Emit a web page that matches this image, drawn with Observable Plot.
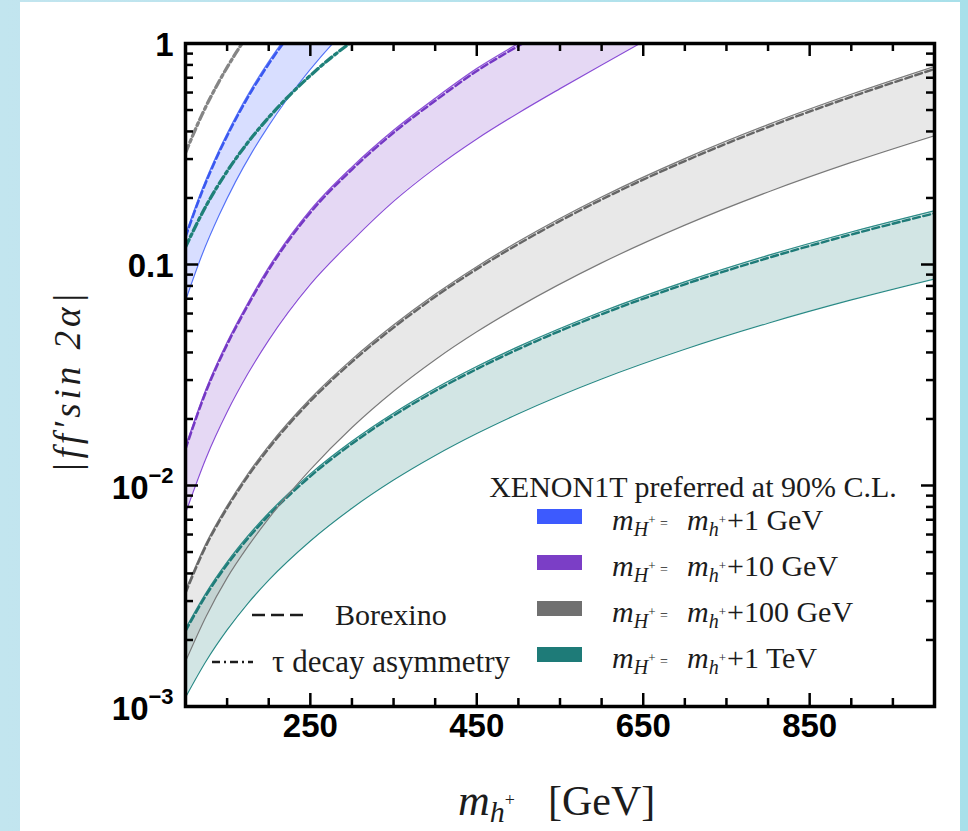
<!DOCTYPE html>
<html><head><meta charset="utf-8">
<script src="https://cdn.jsdelivr.net/npm/d3@7"></script>
<script src="https://cdn.jsdelivr.net/npm/@observablehq/plot@0.6"></script>
<style>
html,body{margin:0;padding:0;background:#bfe4ee;}
#wrap{position:relative;width:968px;height:831px;background:linear-gradient(90deg,#c2e5ef,#a8e0ea);overflow:hidden;}
#panel{position:absolute;left:20px;top:2px;width:940px;height:829px;background:#fff;}
#wrap svg{position:absolute;left:0;top:0;}
</style></head><body><div id="wrap"><div id="panel"></div></div>
<script>
// ---------- data ----------
// m_H+ = m_h+ + 1 GeV
const blueX     = [100, 120, 140, 160, 180, 200, 220, 240, 260, 280];
const blueUpper = [0.1365, 0.219, 0.327, 0.463, 0.63, 0.828, 1.06, 1.33, 1.64, 1.99];
const blueLower = [0.0687, 0.111, 0.166, 0.2365, 0.3224, 0.425, 0.5464, 0.687, 0.848, 1.03];
// m_H+ = m_h+ + 10 GeV
const purpleX     = [100, 125, 150, 175, 200, 250, 300, 350, 400, 450, 500, 550, 600, 650];
const purpleUpper = [0.015, 0.0275, 0.0445, 0.067, 0.097, 0.176, 0.276, 0.405, 0.565, 0.77, 1.0, 1.27, 1.6, 2.0];
const purpleLower = [0.0075, 0.0134, 0.0215, 0.0321, 0.0455, 0.0813, 0.128, 0.193, 0.273, 0.37, 0.485, 0.625, 0.8, 1.02];
// m_H+ = m_h+ + 100 GeV
const grayX     = [100, 125, 150, 175, 200, 250, 300, 350, 400, 450, 500, 600, 700, 800, 900, 1000];
const grayUpper = [0.00335, 0.0055, 0.0081, 0.0113, 0.0151, 0.0247, 0.0372, 0.0532, 0.0733, 0.0978, 0.127, 0.202, 0.3015, 0.4295, 0.589, 0.787];
const grayLower = [0.0016, 0.00257, 0.00382, 0.0053, 0.0071, 0.0118, 0.0183, 0.0267, 0.0371, 0.0496, 0.0643, 0.1017, 0.1507, 0.2129, 0.2896, 0.383];
// m_H+ = m_h+ + 1 TeV
const tealX     = [100, 125, 150, 175, 200, 250, 300, 350, 400, 450, 500, 600, 700, 800, 900, 1000];
const tealUpper = [0.00225, 0.00328, 0.0045, 0.00591, 0.00751, 0.01129, 0.01586, 0.02125, 0.02747, 0.03453, 0.04249, 0.06113, 0.0835, 0.1099, 0.1403, 0.175];
const tealLower = [0.0011, 0.00161, 0.00222, 0.00293, 0.00373, 0.00561, 0.00789, 0.01058, 0.01367, 0.01718, 0.02112, 0.03034, 0.04135, 0.05424, 0.06912, 0.086];
// tau decay asymmetry (dash-dot)
const tauGrayX = [100, 120, 140, 160, 180];
const tauGrayY = [0.32, 0.478, 0.67, 0.899, 1.166];
const tauTealX = [100, 125, 150, 175, 200, 225, 250, 275, 300, 325];
const tauTealY = [0.12, 0.185, 0.264, 0.357, 0.463, 0.583, 0.716, 0.863, 1.02, 1.19];

// ticks and labels
const xMajor = [250, 450, 650, 850];
const xMinor = [150, 200, 300, 350, 400, 500, 550, 600, 700, 750, 800, 900, 950];
const yMajor = [0.001, 0.01, 0.1, 1];
const yMinor = [0.002,0.003,0.004,0.005,0.006,0.007,0.008,0.009,
                0.02,0.03,0.04,0.05,0.06,0.07,0.08,0.09,
                0.2,0.3,0.4,0.5,0.6,0.7,0.8,0.9];
const yLabelBase = ["10", "10", "0.1", "1"];
const yLabelExp  = ["−3", "−2", "", ""];
const legendTitle = "XENON1T preferred at 90% C.L.";
const legendSuffix = ["+1 GeV", "+10 GeV", "+100 GeV", "+1 TeV"];
const legendColor = ["#3d5afe", "#7b3ec6", "#707070", "#1e7b78"];

// ---------- plot ----------
const W = 968, H = 831, mL = 185, mR = 34, mT = 43, mB = 125;
const iW = W - mL - mR, iH = H - mT - mB;
const MAJ = 13, MIN = 8;
const curve = "monotone-x";

const bands = [
  {x: tealX, up: tealUpper, lo: tealLower, fill: "#1e7b78", line: "#2a8a86", dash: "#1e7b78"},
  {x: grayX, up: grayUpper, lo: grayLower, fill: "#8a8a8a", line: "#7a7a7a", dash: "#666666"},
  {x: purpleX, up: purpleUpper, lo: purpleLower, fill: "#7b3ec6", line: "#8a4ed6", dash: "#7438c4"},
  {x: blueX, up: blueUpper, lo: blueLower, fill: "#3d5afe", line: "#5573f8", dash: "#3a58f0"}
];

const marks = [];
for (const b of bands) {
  const rows = b.x.map((x, i) => ({x, up: b.up[i], lo: b.lo[i]}));
  marks.push(Plot.areaY(rows, {x: "x", y1: "lo", y2: "up", fill: b.fill, fillOpacity: 0.2, curve, clip: true}));
}
for (const b of bands) {
  const rows = b.x.map((x, i) => ({x, up: b.up[i], lo: b.lo[i]}));
  marks.push(
    Plot.line(rows, {x: "x", y: "up", stroke: b.line, strokeWidth: 1.2, curve, clip: true}),
    Plot.line(rows, {x: "x", y: "lo", stroke: b.line, strokeWidth: 1.2, curve, clip: true}),
    Plot.line(rows, {x: "x", y: "up", stroke: b.dash, strokeWidth: 2.4, strokeDasharray: "7,3.5", dy: 2.5, curve, clip: true})
  );
}
const tauG = tauGrayX.map((x, i) => ({x, y: tauGrayY[i]}));
const tauT = tauTealX.map((x, i) => ({x, y: tauTealY[i]}));
marks.push(
  Plot.line(tauG, {x: "x", y: "y", stroke: "#858585", strokeWidth: 3.3, strokeDasharray: "8,3.5,3,3.5", curve, clip: true}),
  Plot.line(tauT, {x: "x", y: "y", stroke: "#1e8079", strokeWidth: 3.3, strokeDasharray: "8,3.5,3,3.5", curve, clip: true})
);

const tk = {stroke: "#000", strokeWidth: 2.5};
marks.push(
  Plot.tickX(xMajor, {x: d => d, insetTop: iH - MAJ, ...tk}),
  Plot.tickX(xMajor, {x: d => d, insetBottom: iH - MAJ, ...tk}),
  Plot.tickX(xMinor, {x: d => d, insetTop: iH - MIN, ...tk}),
  Plot.tickX(xMinor, {x: d => d, insetBottom: iH - MIN, ...tk}),
  Plot.tickY(yMajor, {y: d => d, insetRight: iW - MAJ, ...tk}),
  Plot.tickY(yMajor, {y: d => d, insetLeft: iW - MAJ, ...tk}),
  Plot.tickY(yMinor, {y: d => d, insetRight: iW - MIN, ...tk}),
  Plot.tickY(yMinor, {y: d => d, insetLeft: iW - MIN, ...tk}),
  Plot.frame({stroke: "#000", strokeWidth: 3.5})
);

const sans = "'Liberation Sans', Arial, Helvetica, sans-serif";
marks.push(
  Plot.text(xMajor, {x: d => d, frameAnchor: "bottom", dy: 30, text: d => String(d),
    fontSize: 33, fontWeight: "bold", fontFamily: sans, fill: "#000"}),
  Plot.text(yMajor, {filter: (d, i) => yLabelExp[i] === "", y: d => d, frameAnchor: "left", dx: -12, dy: 2,
    textAnchor: "end", text: d => yLabelBase[yMajor.indexOf(d)], fontSize: 33, fontWeight: "bold", fontFamily: sans, fill: "#000"}),
  Plot.text(yMajor, {filter: (d, i) => yLabelExp[i] !== "", y: d => d, frameAnchor: "left", dx: -37, dy: 3,
    textAnchor: "end", text: d => yLabelBase[yMajor.indexOf(d)], fontSize: 33, fontWeight: "bold", fontFamily: sans, fill: "#000"}),
  Plot.text(yMajor, {filter: (d, i) => yLabelExp[i] !== "", y: d => d, frameAnchor: "left", dx: -12, dy: -10,
    textAnchor: "end", text: d => yLabelExp[yMajor.indexOf(d)], fontSize: 22, fontWeight: "bold", fontFamily: sans, fill: "#000"})
);

const chart = Plot.plot({
  width: W, height: H,
  marginLeft: mL, marginRight: mR, marginTop: mT, marginBottom: mB,
  x: {domain: [100, 1000], axis: null},
  y: {type: "log", domain: [0.001, 1], axis: null},
  style: {background: "none", overflow: "visible"},
  marks
});
document.getElementById("wrap").appendChild(chart);

// ---------- titles and legend ----------
const serif = "'Liberation Serif', 'Times New Roman', Times, serif";
const ink = "#1c1c1c";
const ov = d3.select("#wrap").append("svg").attr("width", W).attr("height", H);

ov.append("text").attr("transform", "translate(80,381) rotate(-90)").attr("text-anchor", "middle")
  .attr("fill", ink).style("font-family", serif).style("font-style", "italic").style("font-size", "37px")
  .style("letter-spacing", "4px").text("|ff′sin 2α|");

const xt = ov.append("text").attr("x", 458).attr("y", 815).attr("fill", ink).style("font-family", serif);
xt.append("tspan").attr("font-style", "italic").attr("font-size", 44).text("m");
xt.append("tspan").attr("font-style", "italic").attr("font-size", 30).attr("dy", 7).text("h");
xt.append("tspan").attr("font-size", 18).attr("dy", -16).text("+");
xt.append("tspan").attr("font-size", 42).attr("x", 548).attr("dy", 9).text("[GeV]");

ov.append("text").attr("x", 693).attr("y", 497).attr("text-anchor", "middle").attr("fill", ink)
  .style("font-family", serif).style("font-size", "30px").text(legendTitle);

legendSuffix.forEach((s, i) => {
  const y0 = 509 + i * 46;
  ov.append("rect").attr("x", 537).attr("y", y0).attr("width", 45).attr("height", 15).attr("fill", legendColor[i]);
  const t = ov.append("text").attr("x", 612).attr("y", y0 + 21).attr("fill", ink).style("font-family", serif);
  t.append("tspan").attr("font-style", "italic").attr("font-size", 30).text("m");
  t.append("tspan").attr("font-style", "italic").attr("font-size", 20).attr("dy", 6).text("H");
  t.append("tspan").attr("font-size", 13).attr("dy", -12).text("+");
  t.append("tspan").attr("font-size", 14).attr("x", 660).attr("dy", 4).text("=");
  t.append("tspan").attr("font-style", "italic").attr("font-size", 30).attr("x", 687).attr("dy", 2).text("m");
  t.append("tspan").attr("font-style", "italic").attr("font-size", 20).attr("dy", 6).text("h");
  t.append("tspan").attr("font-size", 13).attr("dy", -12).text("+");
  t.append("tspan").attr("font-size", 30).attr("x", 727).attr("dy", 6).text(s);
});

ov.append("line").attr("x1", 252).attr("x2", 305).attr("y1", 615).attr("y2", 615)
  .attr("stroke", ink).attr("stroke-width", 2.5).attr("stroke-dasharray", "13,6");
ov.append("text").attr("x", 335).attr("y", 625).attr("fill", ink)
  .style("font-family", serif).style("font-size", "30px").text("Borexino");
ov.append("line").attr("x1", 212).attr("x2", 253).attr("y1", 662).attr("y2", 662)
  .attr("stroke", ink).attr("stroke-width", 2.5).attr("stroke-dasharray", "8,4,2,4");
ov.append("text").attr("x", 272).attr("y", 672).attr("fill", ink)
  .style("font-family", serif).style("font-size", "31px").text("τ decay asymmetry");
</script></body></html>
